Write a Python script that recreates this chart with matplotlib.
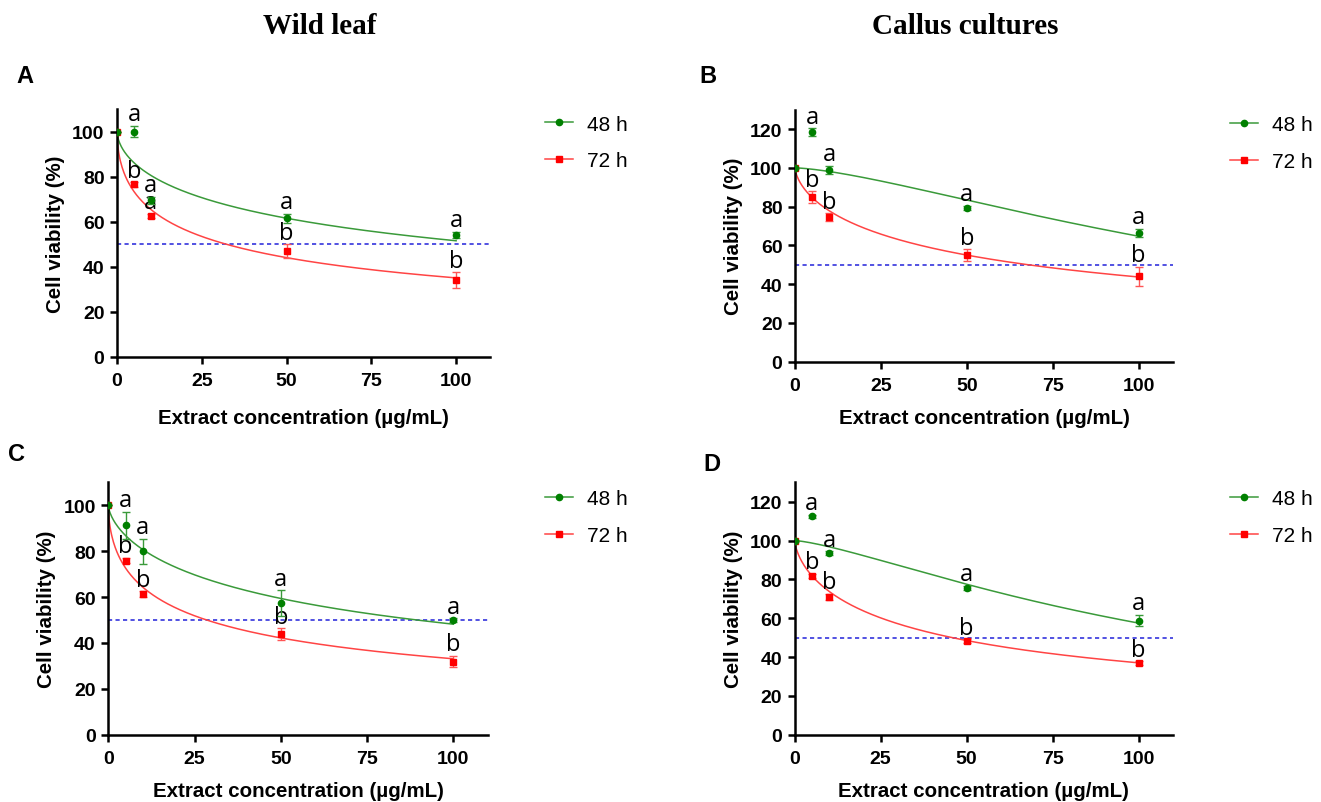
import numpy as np
import matplotlib
matplotlib.use('Agg')
import matplotlib.pyplot as plt
from matplotlib.lines import Line2D

plt.rcParams['font.family'] = 'Liberation Sans'

W, H = 1321, 803

conc = [0, 5, 10, 50, 100]

# panel A - wild leaf, first cell line
a_48 = [100, 100, 69.5, 61.5, 54]
a_48_err = [0, 2.5, 1.5, 2, 1.5]
a_72 = [100, 76.5, 62.5, 47, 34]
a_72_err = [0, 1, 1, 3, 3.5]
a_48_lbl = ['', 'a', 'a', 'a', 'a']
a_72_lbl = ['', 'b', 'a', 'b', 'b']

# panel B - callus, first cell line
b_48 = [100, 118.5, 99, 79.5, 66.5]
b_48_err = [0, 2, 2, 1, 2]
b_72 = [100, 85, 74.5, 55, 44]
b_72_err = [0, 3, 2, 3, 5]
b_48_lbl = ['', 'a', 'a', 'a', 'a']
b_72_lbl = ['', 'b', 'b', 'b', 'b']

# panel C - wild leaf, second cell line
c_48 = [100, 91.2, 79.9, 57.4, 49.9]
c_48_err = [0, 6, 5.5, 5.5, 0.8]
c_72 = [100, 75.9, 61.3, 43.8, 31.8]
c_72_err = [0, 1.2, 1.2, 2.5, 2.5]
c_48_lbl = ['', 'a', 'a', 'a', 'a']
c_72_lbl = ['', 'b', 'b', 'b', 'b']

# panel D - callus, second cell line
d_48 = [100, 112.6, 93.6, 75.6, 58.8]
d_48_err = [0, 0.8, 0.8, 1.2, 3]
d_72 = [100, 81.8, 71.1, 48.2, 36.8]
d_72_err = [0, 1, 1.5, 1, 1]
d_48_lbl = ['', 'a', 'a', 'a', 'a']
d_72_lbl = ['', 'b', 'b', 'b', 'b']

# fitted dose-response curves (IC50, Hill slope) per panel, 48 h / 72 h
fit_48 = {'A': (110.6, 0.59), 'B': (152, 1.45), 'C': (89.4, 0.653), 'D': (125, 1.35)}
fit_72 = {'A': (32.1, 0.545), 'B': (67.9, 0.655), 'C': (28.5, 0.561), 'D': (45.8, 0.681)}

GREEN = '#008000'
RED = '#ff0000'

fig = plt.figure(figsize=(W / 100, H / 100), dpi=100)


def px_axes(left, top, right, bottom):
    return fig.add_axes([left / W, 1 - bottom / H, (right - left) / W, (bottom - top) / H])


def response(x, ic50, hill):
    return 100 / (1 + (x / ic50) ** hill)


panels = [
    ('A', (117, 110, 490, 357.7), 110, a_48, a_48_err, a_72, a_72_err, a_48_lbl, a_72_lbl, 55.7, 418.3, (545, 143.5)),
    ('B', (795, 110.7, 1173, 362.7), 130, b_48, b_48_err, b_72, b_72_err, b_48_lbl, b_72_lbl, 733.3, 418.3, (1230, 144)),
    ('C', (108.3, 483.3, 487.7, 735.7), 110, c_48, c_48_err, c_72, c_72_err, c_48_lbl, c_72_lbl, 46.7, 791.7, (545, 518)),
    ('D', (794.7, 483.3, 1173, 735.7), 130, d_48, d_48_err, d_72, d_72_err, d_48_lbl, d_72_lbl, 733.3, 791.3, (1230, 518)),
]

xf = np.linspace(0, 100, 400)

for name, box, ytop, y48, e48, y72, e72, l48, l72, ylab_x, xlab_y, leg in panels:
    ax = px_axes(*box)
    ax.set_xlim(0, 110)
    ax.set_ylim(0, ytop)

    ax.axhline(50, color='#3333dd', lw=1.2, ls=(0, (2.5, 2)), zorder=1)

    ic, h = fit_72[name]
    ax.plot(xf, response(xf, ic, h), color='#ff4444', lw=1.1, zorder=2)
    ic, h = fit_48[name]
    ax.plot(xf, response(xf, ic, h), color='#3a9a3a', lw=1.1, zorder=2)

    ax.errorbar(conc, y72, yerr=e72, fmt='s', color=RED, ms=5, capsize=3,
                elinewidth=1, capthick=1, ecolor='#ff5555', zorder=3)
    ax.errorbar(conc, y48, yerr=e48, fmt='o', color=GREEN, ms=4.5, capsize=3,
                elinewidth=1, capthick=1, ecolor='#3a9a3a', zorder=4)

    for xv, yv, ev, t in zip(conc, y48, e48, l48):
        if t:
            ax.annotate(t, (xv, yv + ev), xytext=(0, 4), textcoords='offset points',
                        ha='center', va='baseline', fontsize=17, family='Open Sans')
    for xv, yv, ev, t in zip(conc, y72, e72, l72):
        if t:
            ax.annotate(t, (xv, yv + ev), xytext=(0, 4), textcoords='offset points',
                        ha='center', va='baseline', fontsize=17, family='Open Sans')

    for s in ['top', 'right']:
        ax.spines[s].set_visible(False)
    for s in ['left', 'bottom']:
        ax.spines[s].set_linewidth(1.8)
    ax.set_xticks([0, 25, 50, 75, 100])
    ax.set_yticks(np.arange(0, ytop, 20))
    ax.tick_params(width=1.8, length=5, labelsize=14)
    ax.tick_params(axis='x', pad=6)
    ax.tick_params(axis='y', pad=4)
    for lb in ax.get_xticklabels() + ax.get_yticklabels():
        lb.set_fontweight('bold')

    fig.text(ylab_x / W, 1 - (box[1] + box[3]) / 2 / H, 'Cell viability (%)', rotation=90,
             ha='center', va='center', fontsize=14.8, fontweight='bold')
    fig.text((box[0] + box[2]) / 2 / W, 1 - xlab_y / H, 'Extract concentration (µg/mL)',
             ha='center', va='center', fontsize=14.8, fontweight='bold')

    handles = [Line2D([], [], color='#3a9a3a', lw=1.1, marker='o', ms=4.5, mfc=GREEN, mec=GREEN),
               Line2D([], [], color='#ff4444', lw=1.1, marker='s', ms=5, mfc=RED, mec=RED)]
    ax.legend(handles, ['48 h', '72 h'], loc='center left',
              bbox_to_anchor=(leg[0] / W, 1 - leg[1] / H), bbox_transform=fig.transFigure,
              frameon=False, fontsize=15, handlelength=1.35, handletextpad=0.65,
              labelspacing=0.85, borderpad=0, borderaxespad=0)

# panel letters
fig.text(25 / W, 1 - 76.7 / H, 'A', ha='center', va='center', fontsize=17, fontweight='bold')
fig.text(708 / W, 1 - 76.7 / H, 'B', ha='center', va='center', fontsize=17, fontweight='bold')
fig.text(16.7 / W, 1 - 455 / H, 'C', ha='center', va='center', fontsize=17, fontweight='bold')
fig.text(712 / W, 1 - 465 / H, 'D', ha='center', va='center', fontsize=17, fontweight='bold')

# column titles
fig.text(320 / W, 1 - 26 / H, 'Wild leaf', ha='center', va='center', fontsize=21,
         fontweight='bold', family='Liberation Serif')
fig.text(965 / W, 1 - 26 / H, 'Callus cultures', ha='center', va='center', fontsize=21,
         fontweight='bold', family='Liberation Serif')

fig.savefig('out.png', dpi=100)
